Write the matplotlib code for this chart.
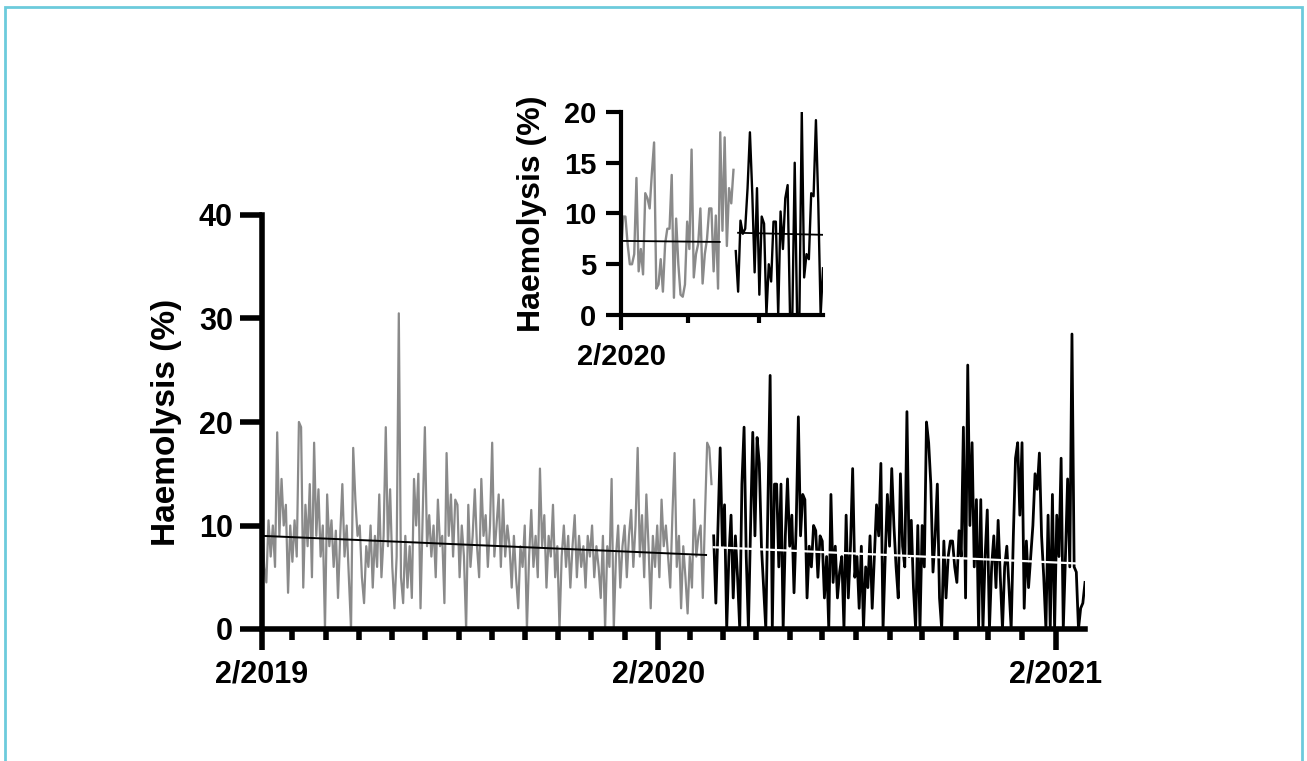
import numpy as np
import matplotlib
matplotlib.use("Agg")
import matplotlib.pyplot as plt
from matplotlib.patches import Rectangle
from matplotlib.ticker import FixedLocator, NullFormatter

plt.rcParams['font.family'] = ['Liberation Sans', 'DejaVu Sans']
plt.rcParams['font.weight'] = 'bold'

# ---------------- data ----------------
origin = np.datetime64('2019-02-01')
before_start = np.datetime64('2019-02-01')   # grey series, every 2 days
after_start = np.datetime64('2020-03-23')    # black series, every 2 days
step_days = 2

before_values = [
    10.9, 6, 4.5, 10.5, 7, 10, 6, 19, 9, 14.5,
    10, 12, 3.5, 10, 6.5, 10.5, 7, 20, 19.5, 4,
    12, 8, 14, 5, 18, 9, 13.5, 7, 10, 0,
    13, 8, 10.5, 6, 9.5, 3, 9, 14, 7, 10,
    5, 0, 17.5, 12.5, 9, 10, 5, 2.5, 8, 6,
    10, 4, 9, 6, 13, 5, 9, 19.5, 8, 13.5,
    6, 2, 7, 30.5, 5, 2.5, 9, 4, 8, 3,
    14.5, 10, 15, 2, 11, 19.5, 8, 11, 7, 10,
    5, 12.5, 8, 9, 2.5, 17, 9, 13, 7, 12.5,
    12, 5, 10, 7, 0, 12, 6, 9, 13.5, 8,
    5, 14.5, 9, 11, 6, 10, 18, 7, 10, 13,
    6, 12.5, 7, 10, 8, 4, 9, 5, 2, 8,
    6, 10, 0, 7, 11.5, 6, 9, 5, 15.5, 8,
    11, 4, 9, 7, 12, 5, 8, 0, 7, 10,
    6, 9, 4, 8, 11, 5, 9, 6, 8, 4,
    9, 7, 10, 5, 8, 6, 3, 9, 0, 8,
    6, 14.5, 0, 7, 10, 4, 8, 10, 5, 9,
    11.5, 6, 10, 17.5, 7, 11, 5, 13, 8, 2,
    9, 6, 10, 5, 12.5, 8, 10, 7, 4, 11,
    17, 6, 9, 2, 8, 5, 1.5, 7, 4, 12.5,
    7, 9, 10, 3, 11, 18, 17.5, 14,
]

after_values = [
    9, 2.5, 10, 17.5, 8, 12, 0, 7, 11, 3,
    9, 5, 0, 14, 19.5, 7, 0, 10, 19, 9,
    18.5, 16, 8, 4, 0, 12, 24.5, 0, 14, 14,
    6, 14, 0, 9, 14.5, 8, 11, 3.5, 10, 20.5,
    9, 13, 12.5, 3, 8, 6, 10, 9.5, 5, 9,
    8.5, 3, 7, 0, 13, 4.5, 8, 3, 5.5, 7,
    0, 11, 3, 8, 15.5, 5, 7, 2, 8, 0,
    6, 4, 9, 2, 7, 12, 9, 16, 0, 7,
    13, 8, 15.5, 10, 6, 3, 15, 8, 6, 21,
    7, 10.5, 4, 0, 10, 0, 10, 6, 20, 18,
    14, 5.5, 9, 14, 3, 0, 8.5, 3, 7, 8.5,
    8.5, 6, 4.5, 9.5, 7, 19.5, 3, 25.5, 10, 18,
    6, 12.5, 0, 12.5, 0, 7, 11.5, 0, 6, 9,
    4, 10.5, 5, 0, 6, 8, 4, 0, 9, 16.5,
    18, 11, 18, 2, 8.5, 4, 7, 10, 15, 13.5,
    17, 9, 5, 0, 11, 0, 13, 0, 11, 7,
    16.5, 0, 7, 14.5, 6, 28.5, 6, 5.5, 0, 2,
    2.5, 4.5,
]

# linear trend endpoints (start, end) for each period
trend_before = [9.0, 7.15]
trend_after = [7.9, 6.3]
trend_before_end = np.datetime64('2020-03-16')

# x tick labels
major_labels = ['2/2019', '2/2020', '2/2021']
xaxis_end = np.datetime64('2021-02-28')

# inset: daily values, Feb-Apr 2020
inset_origin = np.datetime64('2020-02-01')
inset_before = [
    6, 9.7, 9.7, 7, 5, 5, 6, 13.5, 4.3, 6.5,
    4, 12, 11.5, 10.5, 14, 17, 2.6, 3, 5.5, 2.3,
    7, 8.5, 8.5, 13.8, 1.7, 9.5, 5, 2, 1.8, 3,
    9.2, 6.5, 16.3, 3.7, 6, 7, 10.5, 3.1, 6, 7.5,
    10.5, 10.5, 4.3, 9.8, 2.6, 18, 8.3, 17.5, 6.8, 12.5,
    11, 14.3,
]
inset_after = [
    6.3, 2.3, 9.3, 8, 8.5, 12.5, 18, 12, 4.2, 12.5,
    2, 9.7, 9, 0, 5, 3.3, 9.2, 9.2, 0, 10.2,
    6.5, 11.5, 12.8, 0, 0, 15, 0, 0, 20, 3.7,
    6, 5.5, 12, 11.7, 19.2, 11, 0, 4.6,
]
inset_before_span = (np.datetime64('2020-02-01'), np.datetime64('2020-03-21'))
inset_after_span = (np.datetime64('2020-03-22'), np.datetime64('2020-04-29'))
inset_trend_before = [7.3, 7.2]
inset_trend_after = [8.1, 7.9]
inset_trend_before_span = (np.datetime64('2020-02-01'), np.datetime64('2020-03-15'))
inset_trend_after_span = (np.datetime64('2020-03-23'), np.datetime64('2020-04-29'))
inset_label = '2/2020'
inset_end = np.datetime64('2020-04-29')

ylabel = 'Haemolysis (%)'


def days(d, org):
    return float((d - org).astype('timedelta64[D]').astype(int))


# ---------------- figure ----------------
W, H = 1307, 761
fig = plt.figure(figsize=(W / 100, H / 100), dpi=100)
fig.patch.set_facecolor('white')

# light blue frame
fig.patches.append(Rectangle((4.5 / W, -0.05), (1302 - 4.5) / W, 1.05 - 7 / H,
                             transform=fig.transFigure, fill=False,
                             edgecolor='#6ccbdc', linewidth=2.0))

# main axes
ax = fig.add_axes([262 / W, 1 - 629 / H, (1085 - 262) / W, (629 - 215) / H])
xb = days(before_start, origin) + step_days * np.arange(len(before_values))
xa = days(after_start, origin) + step_days * np.arange(len(after_values))
ax.plot(xb, before_values, color='#8a8a8a', lw=1.6, zorder=2)
ax.plot(xa, after_values, color='black', lw=2.0, zorder=2)
ax.plot([xb[0], days(trend_before_end, origin)], trend_before, color='black', lw=1.4, zorder=3)
ax.plot([xa[0], days(xaxis_end, origin)], trend_after, color='white', lw=1.6, zorder=3)

ax.set_xlim(0, days(xaxis_end, origin))
ax.set_ylim(0, 40)
for s in ['top', 'right']:
    ax.spines[s].set_visible(False)
for s in ['left', 'bottom']:
    ax.spines[s].set_linewidth(4.0)

months = np.arange(np.datetime64('2019-02'), np.datetime64('2021-03'), np.timedelta64(1, 'M'))
mdays = [days(m.astype('datetime64[D]'), origin) for m in months]
major = [d for m, d in zip(months, mdays) if str(m).endswith('-02')]
minor = [d for d in mdays if d not in major]
ax.xaxis.set_major_locator(FixedLocator(major))
ax.xaxis.set_minor_locator(FixedLocator(minor))
ax.set_xticklabels(major_labels)
ax.xaxis.set_minor_formatter(NullFormatter())
ax.set_yticks([0, 10, 20, 30, 40])
ax.tick_params(axis='y', which='major', length=16, width=4.0, labelsize=22, pad=5)
ax.tick_params(axis='x', which='major', length=15, width=4.0, labelsize=22, pad=7)
ax.tick_params(axis='x', which='minor', length=8, width=4.0)
for lab in ax.get_xticklabels() + ax.get_yticklabels():
    lab.set_fontweight('bold')
ax.set_ylabel(ylabel, fontsize=24, fontweight='bold', labelpad=12)

# inset axes
ia = fig.add_axes([621 / W, 1 - 315 / H, (823 - 621) / W, (315 - 112) / H])
ia.patch.set_alpha(0)
ib_x = np.linspace(days(inset_before_span[0], inset_origin), days(inset_before_span[1], inset_origin), len(inset_before))
ia_x = np.linspace(days(inset_after_span[0], inset_origin), days(inset_after_span[1], inset_origin), len(inset_after))
ia.plot(ib_x, inset_before, color='#8a8a8a', lw=1.7)
ia.plot(ia_x, inset_after, color='black', lw=1.7)
ia.plot([days(d, inset_origin) for d in inset_trend_before_span], inset_trend_before, color='black', lw=1.3)
ia.plot([days(d, inset_origin) for d in inset_trend_after_span], inset_trend_after, color='black', lw=1.3)
ia.set_xlim(0, days(inset_end, inset_origin))
ia.set_ylim(0, 20)
for s in ['top', 'right']:
    ia.spines[s].set_visible(False)
for s in ['left', 'bottom']:
    ia.spines[s].set_linewidth(3.0)
imonths = np.arange(np.datetime64('2020-02'), np.datetime64('2020-05'), np.timedelta64(1, 'M'))
idays = [days(m.astype('datetime64[D]'), inset_origin) for m in imonths]
ia.xaxis.set_major_locator(FixedLocator(idays[:1]))
ia.xaxis.set_minor_locator(FixedLocator(idays[1:]))
ia.set_xticklabels([inset_label])
ia.xaxis.set_minor_formatter(NullFormatter())
ia.set_yticks([0, 5, 10, 15, 20])
ia.tick_params(axis='y', which='major', length=11, width=3.0, labelsize=21, pad=7)
ia.tick_params(axis='x', which='major', length=11, width=3.0, labelsize=21, pad=9)
ia.tick_params(axis='x', which='minor', length=6, width=3.0)
for lab in ia.get_xticklabels() + ia.get_yticklabels():
    lab.set_fontweight('bold')
ia.set_ylabel(ylabel, fontsize=23, fontweight='bold', labelpad=12)

fig.savefig('out.png', dpi=100, facecolor='white')
